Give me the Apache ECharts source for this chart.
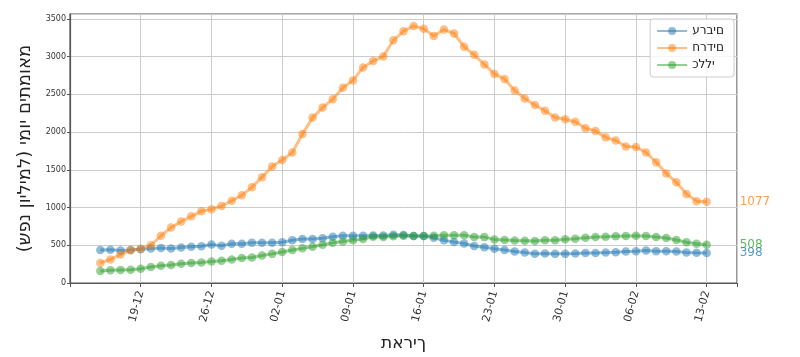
<!DOCTYPE html>
<html>
<head>
<meta charset="utf-8">
<script src="https://cdn.jsdelivr.net/npm/echarts@6/dist/echarts.min.js"></script>
<style>
  html, body { margin: 0; padding: 0; background: #fff; }
  #chart { width: 800px; height: 357px; }
</style>
</head>
<body>
<div id="chart" dir="rtl"></div>
<script>
// daily values from 15-12 to 13-02
var arabs = [438, 442, 432, 438, 446, 457, 463, 458, 470, 480, 487, 510, 495, 520, 520, 532, 532, 532, 541, 566,
  583, 583, 592, 613, 626, 626, 626, 631, 631, 639, 635, 622, 622, 600, 565, 543, 524, 490, 474, 455,
  438, 418, 403, 388, 390, 386, 386, 390, 399, 399, 403, 408, 418, 420, 430, 421, 421, 418, 405, 400, 398];
var haredim = [266, 313, 377, 434, 455, 500, 626, 734, 815, 884, 952, 978, 1021, 1090, 1162, 1270, 1403, 1544, 1630, 1729,
  1975, 2192, 2325, 2436, 2587, 2685, 2857, 2943, 3003, 3217, 3337, 3407, 3368, 3273, 3359, 3307, 3131, 3024, 2896, 2771,
  2703, 2552, 2445, 2359, 2283, 2192, 2171, 2136, 2050, 2016, 1930, 1888, 1810, 1802, 1729, 1600, 1450, 1334, 1180, 1085, 1077];
var general = [158, 168, 172, 176, 189, 212, 228, 240, 255, 264, 272, 285, 296, 311, 330, 338, 364, 386, 412, 438,
  459, 480, 506, 532, 549, 566, 583, 612, 610, 618, 625, 622, 622, 625, 633, 633, 633, 610, 608, 578,
  570, 562, 560, 557, 566, 566, 579, 588, 601, 609, 613, 618, 622, 626, 622, 609, 596, 570, 541, 519, 508];

// week ticks (axis day 7, 14, ... counted from 12-12)
var tickLabels = ['19-12', '26-12', '02-01', '09-01', '16-01', '23-01', '30-01', '06-02', '13-02'];
var seriesNames = ['ערבים', 'חרדים', 'כללי'];
var colors = ['#1f77b4', '#ff7f0e', '#2ca02c'];

var firstDay = 3; // 15-12 sits 3 days after the axis start

// keep letters in stored order, left to right, like the source plot
function ltr(s) { return '\u202D' + s + '\u202C'; }

function toPoints(arr) {
  var res = [];
  for (var i = 0; i < arr.length; i++) {
    res.push([firstDay + i, arr[i]]);
  }
  return res;
}

function makeSeries(name, arr, color) {
  return {
    name: name,
    type: 'line',
    data: toPoints(arr),
    symbol: 'circle',
    symbolSize: 8.5,
    color: color,
    lineStyle: { width: 3, opacity: 0.5 },
    itemStyle: { opacity: 0.5 },
    emphasis: { disabled: true },
    endLabel: {
      show: true,
      distance: 33,
      color: color,
      opacity: 0.75,
      fontSize: 12,
      fontFamily: 'DejaVu Sans',
      formatter: function(p) { return String(p.value[1]); }
    },
    z: 2
  };
}

var option = {
  backgroundColor: '#fff',
  animation: false,
  textStyle: { fontFamily: 'DejaVu Sans' },
  grid: {
    left: 70, right: 63, top: 14, bottom: 66,
    show: true, borderColor: '#555', borderWidth: 1.2
  },
  legend: {
    right: 66, top: 19,
    orient: 'vertical',
    itemWidth: 30, itemHeight: 10, itemGap: 5,
    padding: [6, 10, 6, 6],
    borderColor: '#ccc', borderWidth: 1, borderRadius: 3,
    backgroundColor: 'rgba(255,255,255,0.8)',
    textStyle: { fontSize: 12, color: '#222', fontFamily: 'DejaVu Sans' },
    formatter: function(name) { return ltr(name); },
    data: seriesNames
  },
  xAxis: {
    type: 'value',
    min: 0, max: 66, interval: 7,
    name: ltr('תאריך'),
    nameLocation: 'middle',
    nameGap: 52,
    nameTextStyle: { fontSize: 17, color: '#222' },
    axisLine: { lineStyle: { color: '#555', width: 1.2 } },
    axisTick: { length: 4, lineStyle: { color: '#555' } },
    splitLine: { lineStyle: { color: '#ccc', width: 1 } },
    axisLabel: {
      rotate: 75, fontSize: 11, color: '#333', margin: 8,
      formatter: function(v) {
        var k = Math.round(v / 7) - 1;
        if (v % 7 !== 0 || k < 0 || k >= tickLabels.length) return '';
        return tickLabels[k];
      }
    }
  },
  yAxis: {
    type: 'value',
    min: 0, max: 3565, interval: 500,
    name: 'מאומתים יומי (למיליון נפש)',
    nameLocation: 'middle',
    nameGap: 34,
    nameRotate: 90,
    nameTextStyle: { fontSize: 18, color: '#222' },
    axisLine: { show: true, lineStyle: { color: '#555', width: 1.2 } },
    axisTick: { show: true, length: 3, lineStyle: { color: '#555' } },
    splitLine: { lineStyle: { color: '#ccc', width: 1 } },
    axisLabel: {
      fontSize: 8, color: '#333', margin: 4, showMaxLabel: false,
      formatter: function(v) { return String(v); }
    }
  },
  series: [
    makeSeries(seriesNames[0], arabs, colors[0]),
    makeSeries(seriesNames[1], haredim, colors[1]),
    makeSeries(seriesNames[2], general, colors[2])
  ]
};

var chart = echarts.init(document.getElementById('chart'), null, { renderer: 'canvas' });
chart.setOption(option);
</script>
</body>
</html>
